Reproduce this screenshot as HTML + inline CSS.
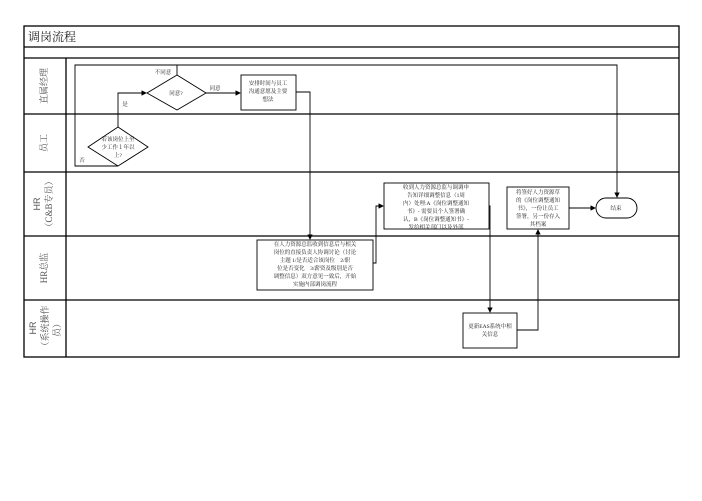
<!DOCTYPE html>
<html><head><meta charset="utf-8"><style>
body{margin:0;background:#fff;}
svg text{font-family:"Liberation Serif","Noto Serif CJK SC",serif;fill:#222;}
</style></head><body>
<svg width="702" height="496" viewBox="0 0 702 496" xmlns="http://www.w3.org/2000/svg">
<defs><marker id="a" markerWidth="6" markerHeight="6" refX="5" refY="3" orient="auto"><path d="M0,0 L6,3 L0,6 z" fill="#000"/></marker></defs>
<g fill="none" stroke="#000" stroke-width="1.3">
<rect x="24" y="26" width="655" height="331"/>
<line x1="24" y1="47" x2="679" y2="47"/>
<line x1="24" y1="58" x2="679" y2="58"/>
<line x1="24" y1="114" x2="679" y2="114"/>
<line x1="24" y1="172" x2="679" y2="172"/>
<line x1="24" y1="236" x2="679" y2="236"/>
<line x1="24" y1="300" x2="679" y2="300"/>
<line x1="66" y1="58" x2="66" y2="357"/>
</g>
<g fill="none" stroke="#000" stroke-width="0.9">
<polyline points="118,166 75,166 75,65 617,65 617,197" marker-end="url(#a)"/>
<line x1="177" y1="75" x2="177" y2="65"/>
<polygon points="177,75 206,93 177,110 147,93" fill="#fff"/>
<polygon points="118,127 148,147 118,166 88,147" fill="#fff"/>
<polyline points="118,127 118,93 146,93" marker-end="url(#a)"/>
<line x1="206" y1="93" x2="240" y2="93" marker-end="url(#a)"/>
<rect x="241" y="75" width="55" height="35" fill="#fff"/>
<polyline points="296,92 310,92 310,239" marker-end="url(#a)"/>
<rect x="257" y="240" width="116" height="50" fill="#fff"/>
<polyline points="373,263 376,263 376,206 383,206" marker-end="url(#a)"/>
<rect x="384" y="183" width="105" height="46" fill="#fff"/>
<polyline points="489,206 490,206 490,312" marker-end="url(#a)"/>
<rect x="463" y="313" width="54" height="35" fill="#fff"/>
<polyline points="517,330 538,330 538,230" marker-end="url(#a)"/>
<rect x="507" y="187" width="62" height="42" fill="#fff"/>
<line x1="569" y1="208" x2="595" y2="208" marker-end="url(#a)"/>
<rect x="596" y="198" width="41" height="20" rx="10" fill="#fff"/>
</g>
<text x="28" y="41" font-size="12">调岗流程</text>
<g font-size="9" text-anchor="middle" style="fill:#555">
<text transform="translate(47,86) rotate(-90)" style="fill:#555">直属经理</text>
<text transform="translate(47,143) rotate(-90)" style="fill:#555">员工</text>
<text transform="translate(40,204) rotate(-90)" style="fill:#555;font-family:'Liberation Sans',sans-serif">HR</text>
<text transform="translate(52,204) rotate(-90)" style="fill:#555">（C&amp;B专员）</text>
<text transform="translate(47,268) rotate(-90)" style="fill:#555">HR总监</text>
<text transform="translate(36,328) rotate(-90)" style="fill:#555;font-family:'Liberation Sans',sans-serif">HR</text>
<text transform="translate(48,328) rotate(-90)" style="fill:#555">（系统操作</text>
<text transform="translate(60,328) rotate(-90)" style="fill:#555">员）</text>
</g>
<g font-size="5.5" text-anchor="middle">
<text x="163" y="74">不同意</text>
<text x="176" y="95">同意?</text>
<text x="215" y="90">同意</text>
<text x="125" y="106">是</text>
<text x="82" y="162">否</text>
<text x="268" y="85">安排时间与员工</text>
<text x="268" y="93">沟通意愿及主要</text>
<text x="268" y="101">想法</text>
<text x="118" y="141">若该岗位上至</text>
<text x="118" y="149">少工作１年以</text>
<text x="118" y="157">上?</text>
<text x="315" y="246">在人力资源总监收到信息后与相关</text>
<text x="315" y="254">岗位的直接负责人协调讨论（讨论</text>
<text x="315" y="262">主题 1/是否适合该岗位　2/职</text>
<text x="315" y="270">位是否变化　3/薪资及级别是否</text>
<text x="315" y="278">调整信息）双方意见一致后，开始</text>
<text x="315" y="286">实施内部调岗流程</text>
<text x="436" y="189">收到人力资源总监与调调申</text>
<text x="436" y="197">告知详细调整信息（1周</text>
<text x="436" y="205">内）处理:A《岗位调整通知</text>
<text x="436" y="213">书》- 需要员个人签署确</text>
<text x="436" y="221">认，B《岗位调整通知书》-</text>
<text x="436" y="229">发给相关部门以及外部</text>
<text x="538" y="194">将签好人力资源草</text>
<text x="538" y="202">的《岗位调整通知</text>
<text x="538" y="210">书》，一份让员工</text>
<text x="538" y="218">签署，另一份存入</text>
<text x="538" y="226">其档案</text>
<text x="616" y="210">结束</text>
<text x="490" y="328">更新EAS系统中相</text>
<text x="490" y="336">关信息</text>
</g>
</svg>
</body></html>
